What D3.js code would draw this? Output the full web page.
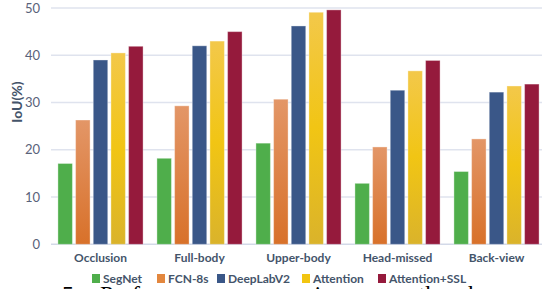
<!DOCTYPE html>
<html>
<head>
<meta charset="utf-8">
<script src="https://cdn.jsdelivr.net/npm/d3@7"></script>
<style>
  body { margin: 0; background: #fff; }
  svg { display: block; }
</style>
</head>
<body>
<svg id="chart" width="542" height="289"></svg>
<script>
var categories = ["Occlusion", "Full-body", "Upper-body", "Head-missed", "Back-view"];
var methods = ["SegNet", "FCN-8s", "DeepLabV2", "Attention", "Attention+SSL"];
var segnet = [17.1, 18.2, 21.4, 12.9, 15.4];
var fcn8s = [26.3, 29.3, 30.7, 20.6, 22.3];
var deeplab = [39.0, 42.0, 46.2, 32.6, 32.2];
var attention = [40.5, 43.0, 49.1, 36.7, 33.5];
var attentionSsl = [41.9, 45.0, 49.6, 38.9, 33.9];
var yTicks = [0, 10, 20, 30, 40, 50];

var seriesValues = [segnet, fcn8s, deeplab, attention, attentionSsl];
var fills = ["#4fae4b", "url(#gOrange)", "#3a5788", "url(#gYellow)", "#951a3c"];
var swatch = ["#4fae4b", "#e3873e", "#3a5788", "#f2c511", "#951a3c"];
var textColor = "#44546a";
var font = "Lato, 'Open Sans', sans-serif";

var svg = d3.select("#chart");

// gradients for the orange and yellow bars
var defs = svg.append("defs");
function grad(id, stops) {
    var g = defs.append("linearGradient").attr("id", id)
        .attr("x1", 0).attr("x2", 0).attr("y1", 0).attr("y2", 1);
    stops.forEach(function (s) {
        g.append("stop").attr("offset", s[0]).attr("stop-color", s[1]);
    });
}
grad("gOrange", [["0%", "#e39667"], ["100%", "#d8712a"]]);
grad("gYellow", [["0%", "#f3c84a"], ["50%", "#f1c514"], ["100%", "#dab32b"]]);

var x0 = d3.scaleBand().domain(categories).range([51, 546])
    .paddingInner(0.14).paddingOuter(0.07);
var x1 = d3.scaleBand().domain(methods).range([0, x0.bandwidth()])
    .paddingInner(0.18);
var y = d3.scaleLinear().domain([0, 50]).range([244.3, 8]);

// gridlines
svg.append("g").selectAll("line").data(yTicks).join("line")
    .attr("x1", 51).attr("x2", 542)
    .attr("y1", function (d) { return y(d); })
    .attr("y2", function (d) { return y(d); })
    .attr("stroke", function (d) { return d === 0 ? "#d3d9e8" : "#dfe3ee"; })
    .attr("stroke-width", 1.5);

// y axis labels
var yAxis = svg.append("g").attr("transform", "translate(40,0)")
    .call(d3.axisLeft(y).tickValues(yTicks).tickSize(0).tickPadding(0));
yAxis.select(".domain").remove();
yAxis.selectAll("text")
    .attr("fill", "#59627a")
    .style("font-family", font)
    .style("font-size", "13px");

svg.append("text")
    .attr("transform", "translate(22,102) rotate(-90)")
    .attr("text-anchor", "middle")
    .attr("fill", textColor)
    .style("font-family", font)
    .style("font-weight", "bold")
    .style("font-size", "14px")
    .text("IoU(%)");

// bars
var groups = svg.append("g").selectAll("g").data(categories).join("g")
    .attr("transform", function (d) { return "translate(" + x0(d) + ",0)"; });

groups.selectAll("rect")
    .data(function (c, i) {
        return methods.map(function (m, j) {
            return { method: m, value: seriesValues[j][i], k: j };
        });
    })
    .join("rect")
    .attr("x", function (d) { return x1(d.method); })
    .attr("y", function (d) { return y(d.value); })
    .attr("width", x1.bandwidth())
    .attr("height", function (d) { return y(0) - y(d.value); })
    .attr("fill", function (d) { return fills[d.k]; })
    .attr("stroke", "rgba(255,255,255,0.35)")
    .attr("stroke-width", 1);

// category labels
var xAxis = svg.append("g").attr("transform", "translate(0,253)")
    .call(d3.axisBottom(x0).tickSize(0).tickPadding(0));
xAxis.select(".domain").remove();
xAxis.selectAll("text")
    .attr("dy", "0.75em")
    .attr("fill", textColor)
    .style("font-family", font)
    .style("font-weight", "bold")
    .style("font-size", "12px");

// legend
var legendX = [92, 157, 217, 302, 378];
var legend = svg.append("g").selectAll("g").data(methods).join("g")
    .attr("transform", function (d, i) { return "translate(" + legendX[i] + ",274)"; });
legend.append("rect")
    .attr("width", 8).attr("height", 9)
    .attr("fill", function (d, i) { return swatch[i]; });
legend.append("text")
    .attr("x", 11).attr("y", 4.5).attr("dy", "0.35em")
    .attr("fill", textColor)
    .style("font-family", font)
    .style("font-weight", "bold")
    .style("font-size", "12px")
    .text(function (d) { return d; });

// caption bleeding in from below
svg.append("text")
    .attr("x", 62).attr("y", 302)
    .attr("fill", "#000")
    .style("font-family", "'Liberation Serif', serif")
    .style("font-size", "24px")
    .style("word-spacing", "14px")
    .text("5.  Performance comparison on the human bodies");
</script>
</body>
</html>
